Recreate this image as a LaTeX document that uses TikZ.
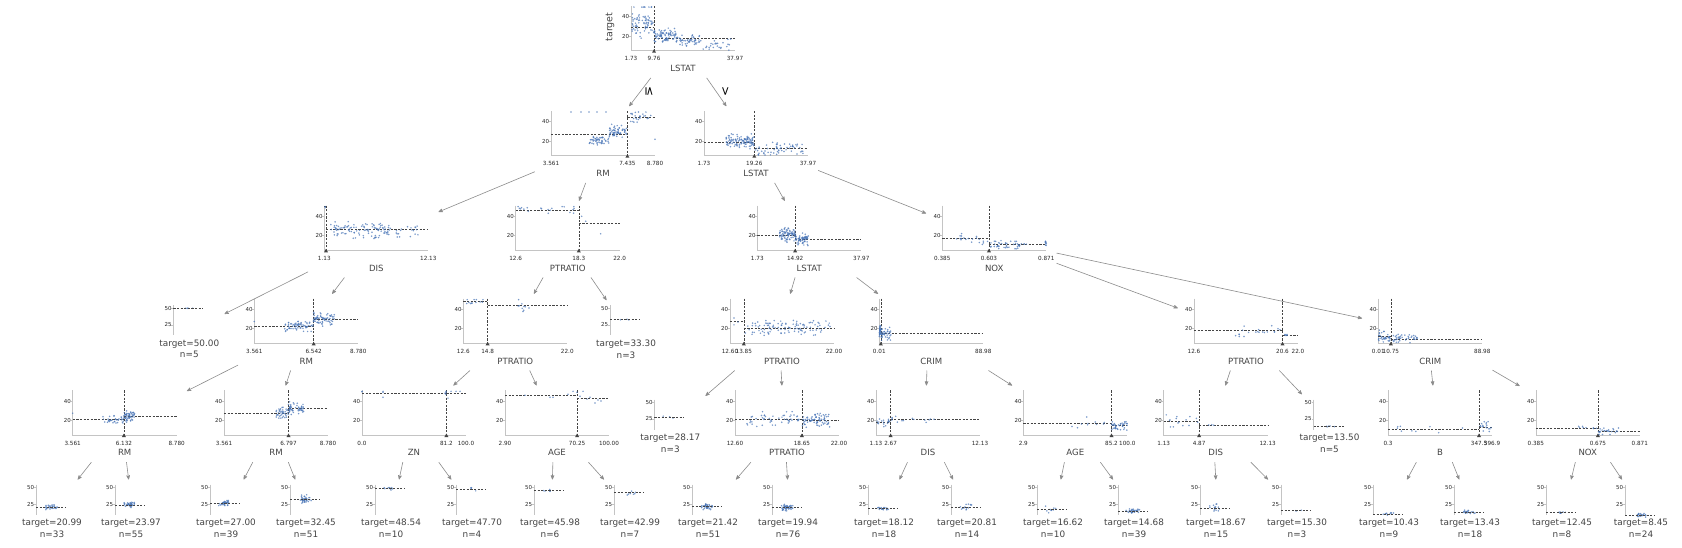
\documentclass[tikz,border=0pt]{standalone}
\usepackage{fontspec}
\setmainfont{DejaVu Sans}
\usetikzlibrary{arrows}
\definecolor{scatblue}{HTML}{4A76B8}
\definecolor{spinegray}{HTML}{C4C4C4}
\definecolor{textgray}{HTML}{444444}
\definecolor{linkgray}{HTML}{8C8C8C}

% current plot: left spine x, x-axis y, leaf 50-tick y
\newcommand\plotx{0}
\newcommand\axisy{0}
\newcommand\leafy{0}

% random dots: offsets #1..#2, value #3 +- #4, #5 dots
\newcommand\cloud[5]{%
  \foreach \k in {1,...,#5}{%
    \pgfmathsetmacro\cx{\plotx+#1+(#2-#1)*rnd}%
    \pgfmathsetmacro\cv{max(5.5,min(50,#3+#4*(rand+rand)/2))}%
    \fill[scat] (\cx,{\axisy+(5-\cv)*0.97}) circle (0.85bp);
  }}
\newcommand\onept[2]{\fill[scat] ({\plotx+#1},{\axisy+(5-#2)*0.97}) circle (0.85bp);}

% name, x0, split offset, left mean, right mean, min, split, max, feature
\newcommand\splitplot[9]{%
  \renewcommand\plotx{#2}%
  \node[treebox] (#1) at ({#2+49},{\axisy-11.15}) {};
  \draw[spine] (#2,{\axisy-44.6}) -- (#2,\axisy) -- ({#2+104},\axisy);
  \foreach \yv in {20,40}
    \draw[spine] ({#2-2},{\axisy+(5-\yv)*0.97}) -- (#2,{\axisy+(5-\yv)*0.97})
      node[ytick,left] {\yv};
  \draw[meanline] (#2,{\axisy+(5-#4)*0.97}) -- ({#2+#3},{\axisy+(5-#4)*0.97});
  \draw[meanline] ({#2+#3},{\axisy+(5-#5)*0.97}) -- ({#2+104},{\axisy+(5-#5)*0.97});
  \draw[meanline] ({#2+#3},{\axisy-44.6}) -- ({#2+#3},\axisy);
  \fill[textgray] ({#2+#3},{\axisy-1.5}) -- ({#2+#3-2},{\axisy+2}) -- ({#2+#3+2},{\axisy+2}) -- cycle;
  \node[xtick] at (#2,{\axisy+8}) {#6};
  \node[xtick] at ({#2+#3},{\axisy+8}) {#7};
  \node[xtick] at ({#2+104},{\axisy+8}) {#8};
  \node[feature] at ({#2+52},{\axisy+17.7}) {#9};
}

% name, x0, mean, spread, dots, target, n
\newcommand\leafplot[7]{%
  \renewcommand\plotx{#2}%
  \node[leafbox] (#1) at ({#2+17.5},{\leafy+22.5}) {};
  \draw[spine] (#2,{\leafy-3}) -- (#2,{\leafy+27});
  \draw[spine] ({#2-2},\leafy) -- (#2,\leafy) node[ytick,left] {50};
  \draw[spine] ({#2-2},{\leafy+16.5}) -- (#2,{\leafy+16.5}) node[ytick,left] {25};
  \foreach \k in {1,...,#5}{%
    \pgfmathsetmacro\cx{#2+15+7*(rand+rand)/2}%
    \pgfmathsetmacro\cv{max(5,min(50,#3+#4*(rand+rand)/2))}%
    \fill[scat] (\cx,{\leafy+(50-\cv)*0.66}) circle (0.85bp);
  }
  \draw[meanline] (#2,{\leafy+(50-#3)*0.66}) -- ({#2+30},{\leafy+(50-#3)*0.66});
  \node[leaftext] at ({#2+16},{\leafy+35.5}) {target=#6};
  \node[leaftext] at ({#2+16},{\leafy+46.5}) {n=#7};
}

\begin{document}
\begin{tikzpicture}[x=1bp, y=-1bp, >=stealth']
    \tikzstyle{treebox} = [rectangle, inner sep=0, minimum width=130bp, minimum height=76.3bp]
    \tikzstyle{leafbox} = [rectangle, inner sep=0, minimum width=67bp, minimum height=61bp]
    \tikzstyle{spine} = [draw=spinegray, line width=0.6bp]
    \tikzstyle{meanline} = [draw=textgray, line width=0.5bp, dash pattern=on 2.2bp off 1.4bp]
    \tikzstyle{scat} = [fill=scatblue, fill opacity=0.75]
    \tikzstyle{xtick} = [font=\fontsize{5.7}{6}\selectfont, text=black!85, inner sep=0]
    \tikzstyle{ytick} = [font=\fontsize{5.5}{6}\selectfont, text=black!85, inner sep=1.5bp]
    \tikzstyle{feature} = [font=\fontsize{8.6}{9}\selectfont, text=textgray, inner sep=0]
    \tikzstyle{leaftext} = [font=\fontsize{8.9}{9}\selectfont, text=textgray, inner sep=0]
    \tikzstyle{link} = [->, draw=linkgray, line width=0.6bp]
    \tikzstyle{edgelab} = [font=\fontsize{12}{12}\selectfont, rotate=-90, inner sep=0]
    \useasboundingbox (0,0) rectangle (1682,548);
    \fill[white] (0,0) rectangle (1682,548);
    \pgfmathsetseed{11}

    % root
    \renewcommand\axisy{50.7}
    \splitplot{lstat0}{631}{23.05}{29.6}{17.35}{1.73}{9.76}{37.97}{LSTAT}
    \cloud{1}{23}{31}{14}{70}
    \cloud{2}{22}{50}{0}{8}
    \cloud{23}{45}{21}{8}{80}
    \cloud{45}{70}{15.5}{7}{55}
    \cloud{70}{100}{11}{7}{25}
    \node[feature, font=\fontsize{9.5}{10}\selectfont, rotate=90] (ylab) at (610,27) {target};

    % level 1
    \renewcommand\axisy{155.7}
    \splitplot{rm1}{551}{76.4}{27.1}{45.1}{3.561}{7.435}{8.780}{RM}
    \cloud{38}{58}{21}{6}{50}
    \cloud{58}{76}{30}{8}{60}
    \cloud{77}{100}{45}{8}{25}
    \onept{20}{50}\onept{30}{50}\onept{38}{50}\onept{46}{50}\onept{55}{50}\onept{104}{22}
    \splitplot{lstat1}{704}{50.3}{19.2}{12.6}{1.73}{19.26}{37.97}{LSTAT}
    \cloud{22}{50}{20}{8}{110}
    \cloud{50}{100}{12}{8}{60}

    % level 2
    \renewcommand\axisy{250.3}
    \splitplot{dis2}{324.3}{1.7}{50}{26.5}{1.13}{}{12.13}{DIS}
    \onept{0.8}{50}\onept{1}{49}
    \cloud{3}{65}{26}{10}{110}
    \cloud{65}{95}{25}{8}{20}
    \splitplot{ptratio2}{515.7}{63.1}{46.4}{33.3}{12.6}{18.3}{22.0}{PTRATIO}
    \cloud{2}{62}{47}{6}{20}
    \onept{66}{40}\onept{70}{35}\onept{85}{22}
    \splitplot{lstat2}{757.3}{37.85}{20.7}{16.75}{1.73}{14.92}{37.97}{LSTAT}
    \cloud{22}{38}{21}{8}{80}
    \cloud{38}{51}{16.5}{8}{60}
    \splitplot{nox2}{942.3}{46.65}{17.1}{10.8}{0.385}{0.603}{0.871}{NOX}
    \cloud{14}{46}{17}{7}{20}
    \cloud{47}{85}{10.5}{6}{45}
    \cloud{103}{104}{12}{5}{8}

    % level 3
    \renewcommand\axisy{343.3}
    \renewcommand\leafy{308.3}
    \leafplot{t5000}{173.3}{50}{0}{5}{50.00}{5}
    \splitplot{rm3}{254.3}{59.4}{22.85}{30.09}{3.561}{6.542}{8.780}{RM}
    \onept{0}{27.5}
    \cloud{30}{59}{22}{7}{70}
    \cloud{59}{80}{30.5}{8}{70}
    \splitplot{ptratio3a}{463.3}{24.3}{48.3}{44.4}{12.6}{14.8}{22.0}{PTRATIO}
    \cloud{1}{24}{48.5}{4}{12}
    \cloud{54}{66}{44}{8}{10}
    \leafplot{t3330}{610}{33.3}{8}{3}{33.30}{3}
    \splitplot{ptratio3b}{730}{13.8}{28.17}{20.53}{12.60}{13.85}{22.00}{PTRATIO}
    \onept{4}{31}\onept{4}{24}\onept{8}{27}
    \cloud{15}{100}{20.5}{9}{110}
    \splitplot{crim3a}{879.3}{1.5}{19.3}{15.1}{0.01}{}{88.98}{CRIM}
    \cloud{0}{1.5}{19}{8}{30}
    \cloud{1.5}{12}{15}{8}{40}
    \splitplot{ptratio3c}{1194}{88.5}{18.11}{13.5}{12.6}{20.6}{22.0}{PTRATIO}
    \cloud{40}{88}{18}{8}{20}
    \onept{91}{13.5}\onept{92}{13}\onept{93}{14}\onept{91}{14}\onept{93}{13.3}
    \splitplot{crim3b}{1378.3}{12.55}{12.4}{9.45}{0.01}{10.75}{88.98}{CRIM}
    \cloud{0}{12}{12}{8}{35}
    \cloud{13}{40}{9.5}{6}{40}

    % level 4
    \renewcommand\axisy{435}
    \renewcommand\leafy{402.5}
    \splitplot{rm4a}{72.7}{51.2}{20.99}{23.97}{3.561}{6.132}{8.780}{RM}
    \onept{0}{27.5}
    \cloud{30}{51}{21}{6}{33}
    \cloud{51}{62}{24}{7}{55}
    \splitplot{rm4b}{224}{64.5}{27.0}{32.45}{3.561}{6.797}{8.780}{RM}
    \cloud{52}{64}{27}{8}{39}
    \cloud{64}{80}{32.5}{8}{51}
    \splitplot{zn4}{362}{84.4}{48.54}{47.7}{0.0}{81.2}{100.0}{ZN}
    \onept{0}{50}\onept{0}{49.5}\onept{21}{50}\onept{21}{49}\onept{21}{44}
    \onept{84}{50}\onept{84}{49}\onept{83}{48}\onept{84}{47}
    \onept{86}{43}\onept{89}{50}\onept{94}{50}\onept{98}{50}
    \splitplot{age4a}{505}{72.1}{45.98}{42.99}{2.90}{70.25}{100.00}{AGE}
    \onept{20}{46}\onept{45}{44}\onept{48}{44}\onept{63}{47}\onept{68}{50}\onept{72}{49}
    \onept{75}{45}\onept{78}{50}\onept{82}{42}\onept{85}{44}\onept{90}{38}\onept{93}{41}\onept{96}{40}
    \leafplot{t2817}{654.3}{28.17}{6}{3}{28.17}{3}
    \splitplot{ptratio4}{735}{66.9}{21.42}{19.94}{12.60}{18.65}{22.00}{PTRATIO}
    \cloud{10}{67}{21.4}{9}{51}
    \cloud{67}{95}{20}{8}{76}
    \splitplot{dis4a}{876}{14.6}{18.12}{20.81}{1.13}{2.67}{12.13}{DIS}
    \cloud{1}{14}{18}{5}{18}
    \cloud{15}{60}{21}{5}{14}
    \splitplot{age4b}{1023.3}{88.2}{16.62}{14.68}{2.9}{85.2}{100.0}{AGE}
    \cloud{45}{88}{16.6}{8}{10}
    \cloud{88}{104}{14.7}{6}{39}
    \splitplot{dis4b}{1163.7}{35.4}{18.67}{15.3}{1.13}{4.87}{12.13}{DIS}
    \cloud{1}{35}{18.7}{8}{15}
    \onept{45}{15.3}\onept{48}{15.6}\onept{50}{15}
    \leafplot{t1350}{1313.5}{13.5}{1}{5}{13.50}{5}
    \splitplot{b4}{1388}{91}{10.43}{13.43}{0.3}{347.5}{396.9}{B}
    \cloud{0}{91}{10.4}{5}{9}
    \cloud{91}{104}{13.4}{6}{18}
    \splitplot{nox4}{1535.8}{62.1}{12.45}{8.45}{0.385}{0.675}{0.871}{NOX}
    \cloud{40}{62}{12.5}{3}{8}
    \cloud{62}{85}{8.5}{5}{24}

    % level 5 leaves
    \renewcommand\leafy{487.7}
    \leafplot{t2099}{36}{20.99}{5}{30}{20.99}{33}
    \leafplot{t2397}{115}{23.97}{5}{40}{23.97}{55}
    \leafplot{t2700}{210}{27.00}{5}{35}{27.00}{39}
    \leafplot{t3245}{290}{32.45}{8}{40}{32.45}{51}
    \leafplot{t4854}{375}{48.54}{3}{10}{48.54}{10}
    \leafplot{t4770}{456}{47.70}{4}{4}{47.70}{4}
    \leafplot{t4598}{534}{45.98}{3}{6}{45.98}{6}
    \leafplot{t4299}{614}{42.99}{6}{7}{42.99}{7}
    \leafplot{t2142}{692}{21.42}{6}{40}{21.42}{51}
    \leafplot{t1994}{772}{19.94}{6}{45}{19.94}{76}
    \leafplot{t1812}{868}{18.12}{3}{18}{18.12}{18}
    \leafplot{t2081}{951}{20.81}{5}{14}{20.81}{14}
    \leafplot{t1662}{1037}{16.62}{7}{10}{16.62}{10}
    \leafplot{t1468}{1118}{14.68}{4}{35}{14.68}{39}
    \leafplot{t1867}{1200}{18.67}{8}{15}{18.67}{15}
    \leafplot{t1530}{1281}{15.30}{1}{3}{15.30}{3}
    \leafplot{t1043}{1373}{10.43}{4}{9}{10.43}{9}
    \leafplot{t1343}{1454}{13.43}{4}{18}{13.43}{18}
    \leafplot{t1245}{1546}{12.45}{2}{8}{12.45}{8}
    \leafplot{t0845}{1625}{8.45}{3}{24}{8.45}{24}

    % edges
    \draw[link] (lstat0) -- (rm1);
    \draw[link] (lstat0) -- (lstat1);
    \node[edgelab] (le) at (649,92) {≤};
    \node[edgelab] (gt) at (725,92) {>};
    \draw[link] (rm1) -- (dis2);
    \draw[link] (rm1) -- (ptratio2);
    \draw[link] (lstat1) -- (lstat2);
    \draw[link] (lstat1) -- (nox2);
    \draw[link] (dis2) -- (t5000);
    \draw[link] (dis2) -- (rm3);
    \draw[link] (ptratio2) -- (ptratio3a);
    \draw[link] (ptratio2) -- (t3330);
    \draw[link] (lstat2) -- (ptratio3b);
    \draw[link] (lstat2) -- (crim3a);
    \draw[link] (nox2) -- (ptratio3c);
    \draw[link] (nox2) -- (crim3b);
    \draw[link] (rm3) -- (rm4a);
    \draw[link] (rm3) -- (rm4b);
    \draw[link] (ptratio3a) -- (zn4);
    \draw[link] (ptratio3a) -- (age4a);
    \draw[link] (ptratio3b) -- (t2817);
    \draw[link] (ptratio3b) -- (ptratio4);
    \draw[link] (crim3a) -- (dis4a);
    \draw[link] (crim3a) -- (age4b);
    \draw[link] (ptratio3c) -- (dis4b);
    \draw[link] (ptratio3c) -- (t1350);
    \draw[link] (crim3b) -- (b4);
    \draw[link] (crim3b) -- (nox4);
    \draw[link] (rm4a) -- (t2099);
    \draw[link] (rm4a) -- (t2397);
    \draw[link] (rm4b) -- (t2700);
    \draw[link] (rm4b) -- (t3245);
    \draw[link] (zn4) -- (t4854);
    \draw[link] (zn4) -- (t4770);
    \draw[link] (age4a) -- (t4598);
    \draw[link] (age4a) -- (t4299);
    \draw[link] (ptratio4) -- (t2142);
    \draw[link] (ptratio4) -- (t1994);
    \draw[link] (dis4a) -- (t1812);
    \draw[link] (dis4a) -- (t2081);
    \draw[link] (age4b) -- (t1662);
    \draw[link] (age4b) -- (t1468);
    \draw[link] (dis4b) -- (t1867);
    \draw[link] (dis4b) -- (t1530);
    \draw[link] (b4) -- (t1043);
    \draw[link] (b4) -- (t1343);
    \draw[link] (nox4) -- (t1245);
    \draw[link] (nox4) -- (t0845);
\end{tikzpicture}
\end{document}
